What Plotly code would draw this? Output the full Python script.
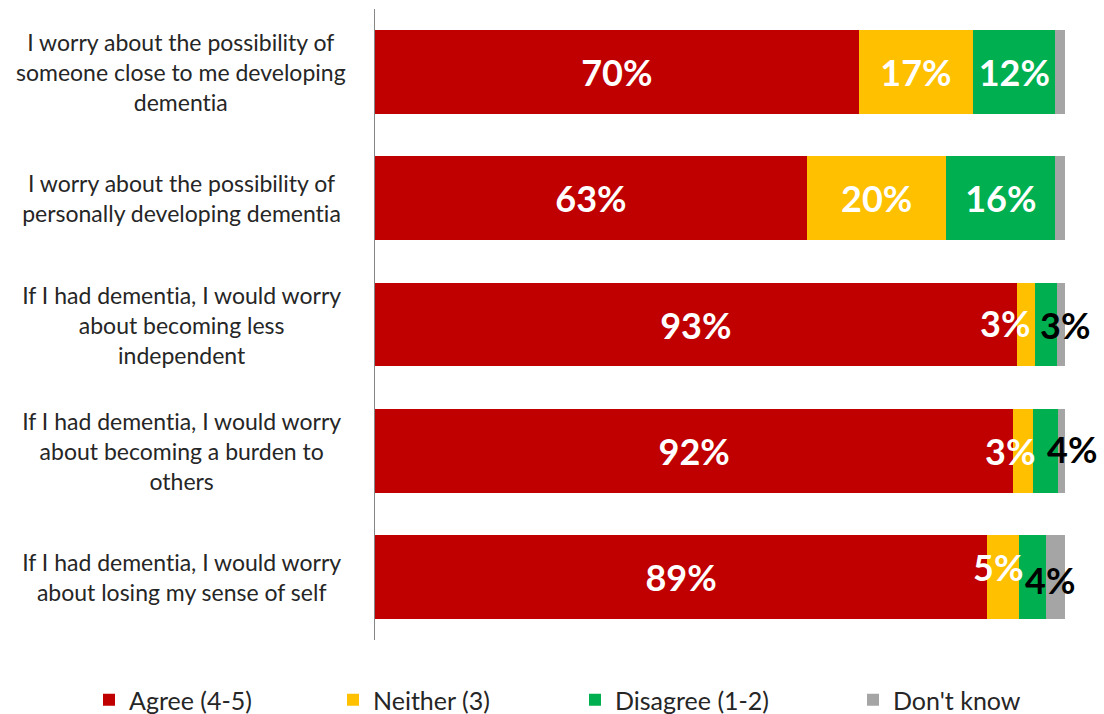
import plotly.graph_objects as go

statements = [
    "I worry about the possibility of<br>someone close to me developing<br>dementia",
    "I worry about the possibility of<br>personally developing dementia",
    "If I had dementia, I would worry<br>about becoming less<br>independent",
    "If I had dementia, I would worry<br>about becoming a burden to<br>others",
    "If I had dementia, I would worry<br>about losing my sense of self",
]
agree = [70.1, 62.6, 93.0, 92.5, 88.7]
neither = [16.6, 20.2, 2.6, 2.9, 4.6]
disagree = [11.9, 15.8, 3.3, 3.6, 3.9]
dont_know = [1.4, 1.4, 1.1, 1.0, 2.8]

series_names = ["Agree (4-5)", "Neither (3)", "Disagree (1-2)", "Don't know"]
colors = ["#C00000", "#FFC000", "#00B050", "#A5A5A5"]

# which segments get their label inside the bar (the rest are placed by hand)
inside_neither = [True, True, False, False, False]
inside_disagree = [True, True, False, False, False]

FONT = "Lato"
TXT = "#262626"

cats = [str(i) for i in range(len(statements))]

fig = go.Figure()
series = [agree, neither, disagree, dont_know]
show_inside = [[True] * 5, inside_neither, inside_disagree, [False] * 5]
legend_ids = ["legend", "legend2", "legend3", "legend4"]

for vals, name, col, show, lg in zip(series, series_names, colors, show_inside, legend_ids):
    fig.add_trace(go.Bar(
        y=cats, x=vals, orientation="h", name=name,
        marker=dict(color=col, line=dict(width=0)),
        text=[f"{v:.0f}%" if s else "" for v, s in zip(vals, show)],
        textposition="inside", insidetextanchor="middle",
        textfont=dict(family=FONT, size=36, color="white", weight="bold"),
        legend=lg, hoverinfo="skip",
    ))

# category labels on the left
for c, s in zip(cats, statements):
    fig.add_annotation(x=-0.281, xref="paper", y=c, yref="y", text=s, showarrow=False,
                       xanchor="center", yanchor="middle", align="center",
                       font=dict(family=FONT, size=23, color=TXT))

# overflow labels for the small segments
n_shift = [(-21, 2), (-13, 0), (-5, 10)]
d_shift = [(19, 0), (26, 2), (18, -3)]
for k, i in enumerate([2, 3, 4]):
    xn = agree[i] + neither[i] / 2
    fig.add_annotation(x=xn, y=cats[i], text=f"{neither[i]:.0f}%", showarrow=False,
                       xshift=n_shift[k][0], yshift=n_shift[k][1],
                       font=dict(family=FONT, size=36, color="white", weight="bold"))
    xd = agree[i] + neither[i] + disagree[i] / 2
    fig.add_annotation(x=xd, y=cats[i], text=f"{disagree[i]:.0f}%", showarrow=False,
                       xshift=d_shift[k][0], yshift=d_shift[k][1],
                       font=dict(family=FONT, size=36, color="black", weight="bold"))

leg_x = [89, 333, 575, 853]
legends = {}
for lg, lx in zip(legend_ids, leg_x):
    legends[lg] = dict(orientation="h", xref="container", yref="container",
                       x=lx / 1104, y=1 - 700 / 714, xanchor="left", yanchor="middle",
                       font=dict(family=FONT, size=25, color=TXT),
                       bgcolor="rgba(0,0,0,0)")

fig.update_layout(
    barmode="stack", bargap=0.335,
    width=1104, height=714,
    margin=dict(l=375, r=39, t=9, b=74),
    paper_bgcolor="white", plot_bgcolor="white",
    showlegend=True,
    **legends,
)
fig.update_xaxes(range=[0, 100], visible=False, fixedrange=True)
fig.update_yaxes(autorange="reversed", showticklabels=False, showline=True,
                 linecolor="#868686", linewidth=1, showgrid=False, ticks="",
                 fixedrange=True)

fix_page = """
document.body.style.margin = '0';
var st = document.createElement('style');
st.textContent = 'text { font-variant-ligatures: none !important; }';
document.head.appendChild(st);
"""
fig.write_html("out.html", post_script=fix_page, config={"displayModeBar": False})
